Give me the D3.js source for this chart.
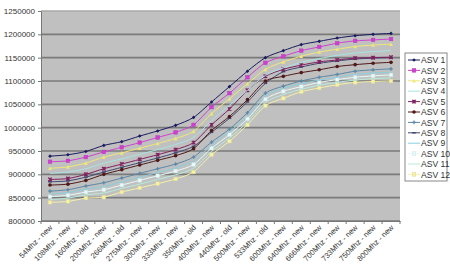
<!DOCTYPE html>
<html>
<head>
<meta charset="utf-8">
<script src="https://cdn.jsdelivr.net/npm/d3@7"></script>
<style>
  body { margin: 0; background: #fff; }
  svg text { font-family: "Liberation Sans", Arial, sans-serif; fill: #222; }
</style>
</head>
<body>
<div id="chart"></div>
<script>
const categories = ["54Mhz - new", "108Mhz - new", "160Mhz - old", "200Mhz - new", "266Mhz - old",
  "275Mhz - new", "300Mhz - new", "333Mhz - new", "350Mhz - old", "400Mhz - new", "440Mhz - old",
  "500Mhz - new", "533Mhz - old", "600Mhz - new", "640Mhz - new", "666Mhz - new", "700Mhz - new",
  "733Mhz - new", "750Mhz - new", "800Mhz - new"];

const seriesNames = ["ASV 1", "ASV 2", "ASV 3", "ASV 4", "ASV 5", "ASV 6",
  "ASV 7", "ASV 8", "ASV 9", "ASV 10", "ASV 11", "ASV 12"];

// values in thousands
const asv1 = [939, 942, 949, 962, 970, 982, 993, 1005, 1022, 1055, 1088, 1121, 1150, 1165, 1178, 1185, 1192, 1197, 1200, 1202];
const asv2 = [927, 929, 937, 948, 958, 968, 979, 990, 1006, 1044, 1074, 1108, 1139, 1153, 1165, 1173, 1181, 1186, 1188, 1190];
const asv3 = [913, 916, 924, 937, 946, 956, 966, 977, 992, 1030, 1062, 1094, 1125, 1141, 1153, 1162, 1168, 1174, 1177, 1179];
const asv4 = [902, 905, 912, 924, 933, 943, 953, 964, 979, 1015, 1048, 1080, 1112, 1128, 1140, 1148, 1155, 1160, 1163, 1165];
const asv5 = [889, 891, 900, 912, 922, 932, 942, 953, 968, 1006, 1040, 1080, 1110, 1125, 1134, 1141, 1145, 1149, 1150, 1151];
const asv6 = [877, 879, 887, 900, 910, 920, 930, 940, 955, 994, 1024, 1060, 1100, 1110, 1118, 1124, 1131, 1135, 1138, 1140];
const asv7 = [864, 867, 875, 882, 892, 902, 912, 922, 937, 969, 997, 1032, 1074, 1089, 1100, 1108, 1114, 1121, 1124, 1126];
const asv8 = [884, 886, 894, 905, 915, 925, 935, 946, 960, 990, 1020, 1055, 1095, 1120, 1130, 1138, 1143, 1147, 1149, 1150];
const asv9 = [858, 861, 868, 874, 884, 894, 904, 914, 929, 962, 991, 1025, 1068, 1084, 1094, 1102, 1108, 1114, 1117, 1119];
const asv10 = [852, 855, 862, 867, 877, 887, 897, 907, 921, 956, 985, 1019, 1061, 1078, 1088, 1097, 1103, 1108, 1111, 1113];
const asv11 = [846, 849, 856, 860, 870, 879, 889, 899, 913, 949, 978, 1012, 1054, 1071, 1082, 1091, 1097, 1102, 1105, 1107];
const asv12 = [840, 842, 849, 851, 862, 871, 880, 890, 905, 942, 971, 1006, 1047, 1063, 1077, 1085, 1092, 1097, 1099, 1100];

const yTicks = [800000, 850000, 900000, 950000, 1000000, 1050000, 1100000, 1150000, 1200000, 1250000];

const allValues = [asv1, asv2, asv3, asv4, asv5, asv6, asv7, asv8, asv9, asv10, asv11, asv12];
const colors = ["#1a1a60", "#d040d0", "#efe878", "#a8e4e4", "#802060", "#501818",
  "#5a88a8", "#404870", "#88d0e0", "#e6fafa", "#b8ecd8", "#f6f2a8"];
const markers = ["diamond", "square", "triangle", "none", "cross", "circle",
  "plus", "dash", "none", "square", "none", "square"];

const data = seriesNames.map((name, i) => ({
  name,
  values: allValues[i].map((v, j) => ({ cat: categories[j], value: v * 1000 }))
}));

const width = 450, height = 275;
const margin = { top: 11, right: 50, bottom: 54, left: 41 };

const svg = d3.select("#chart").append("svg")
  .attr("width", width)
  .attr("height", height);

const xScale = d3.scaleBand()
  .domain(categories)
  .range([margin.left, width - margin.right]);

const yScale = d3.scaleLinear()
  .domain([800000, 1250000])
  .range([height - margin.bottom, margin.top]);

// plot area
svg.append("rect")
  .attr("class", "plot-bg")
  .attr("x", margin.left)
  .attr("y", margin.top)
  .attr("width", width - margin.left - margin.right)
  .attr("height", height - margin.top - margin.bottom)
  .style("fill", "#c0c0c0")
  .style("stroke", "none");

// gridlines
svg.append("g")
  .selectAll("line")
  .data(yTicks)
  .join("line")
  .attr("x1", margin.left)
  .attr("x2", width - margin.right)
  .attr("y1", d => yScale(d))
  .attr("y2", d => yScale(d))
  .style("stroke", d => d === 1250000 ? "#a8a8a8" : "#7a7a7a")
  .style("stroke-width", 1.6);

const yAxis = d3.axisLeft(yScale).tickValues(yTicks).tickSize(3).tickPadding(3).tickFormat(d3.format("d"));
const gy = svg.append("g")
  .attr("transform", `translate(${margin.left},0)`)
  .call(yAxis);
gy.select(".domain").attr("stroke", "#777");
gy.selectAll(".tick line").attr("stroke", "#777");
gy.selectAll("text").attr("font-size", 8).style("fill", "#333");

const xAxis = d3.axisBottom(xScale).tickSize(0).tickFormat("");
const gx = svg.append("g")
  .attr("transform", `translate(0,${height - margin.bottom})`)
  .call(xAxis);
gx.select(".domain").attr("stroke", "#777");

// tick marks between categories
svg.append("g")
  .selectAll("line")
  .data(categories.concat([null]))
  .join("line")
  .attr("x1", (d, i) => margin.left + i * xScale.step())
  .attr("x2", (d, i) => margin.left + i * xScale.step())
  .attr("y1", height - margin.bottom)
  .attr("y2", height - margin.bottom + 3)
  .attr("stroke", "#777");

// rotated category labels
svg.append("g")
  .selectAll("text")
  .data(categories)
  .join("text")
  .attr("transform", d => `translate(${xScale(d) + xScale.bandwidth() / 2 + 3},${height - margin.bottom + 7}) rotate(-45)`)
  .attr("text-anchor", "end")
  .attr("font-size", 7.6)
  .style("fill", "#333")
  .text(d => d);

const line = d3.line()
  .x(d => xScale(d.cat) + xScale.bandwidth() / 2)
  .y(d => yScale(d.value))
  .curve(d3.curveCardinal.tension(0.2));

function drawMarker(g, type, color, size) {
  const s = size;
  if (type === "diamond") {
    g.append("path").attr("d", `M0,${-s}L${s},0L0,${s}L${-s},0Z`).attr("fill", color);
  } else if (type === "square") {
    g.append("rect").attr("x", -s).attr("y", -s).attr("width", 2 * s).attr("height", 2 * s)
      .attr("fill", color).attr("stroke", d3.color(color).darker(0.3)).attr("stroke-width", 0.5);
  } else if (type === "triangle") {
    g.append("path").attr("d", `M0,${-s}L${s},${s}L${-s},${s}Z`).attr("fill", color);
  } else if (type === "circle") {
    g.append("circle").attr("r", s).attr("fill", color);
  } else if (type === "cross") {
    g.append("path").attr("d", `M${-s},${-s}L${s},${s}M${s},${-s}L${-s},${s}M0,${-s}L0,${s}`)
      .attr("stroke", color).attr("stroke-width", 1.2);
  } else if (type === "plus") {
    g.append("path").attr("d", `M${-s},0L${s},0M0,${-s}L0,${s}`)
      .attr("stroke", color).attr("stroke-width", 1.2);
  } else if (type === "dash") {
    g.append("path").attr("d", `M${-s},0L${s},0`).attr("stroke", color).attr("stroke-width", 1.5);
  }
}

// draw series bottom-up so top series end up on top
const series = svg.append("g");
data.slice().reverse().forEach(s => {
  const i = seriesNames.indexOf(s.name);
  series.append("path")
    .datum(s.values)
    .attr("fill", "none")
    .attr("stroke", colors[i])
    .attr("stroke-width", 1)
    .attr("d", line);
  s.values.forEach(d => {
    const g = series.append("g")
      .attr("transform", `translate(${xScale(d.cat) + xScale.bandwidth() / 2},${yScale(d.value)})`);
    drawMarker(g, markers[i], colors[i], 1.8);
  });
});

// legend
const legend = svg.append("g").attr("transform", "translate(405,53)");
legend.append("rect")
  .attr("width", 42)
  .attr("height", 128)
  .style("fill", "#fff")
  .style("stroke", "#888")
  .style("stroke-width", 1);

seriesNames.forEach((name, i) => {
  const y = 7 + i * 10.4;
  legend.append("line")
    .attr("x1", 3).attr("x2", 15)
    .attr("y1", y).attr("y2", y)
    .attr("stroke", colors[i]).attr("stroke-width", 1);
  const g = legend.append("g").attr("transform", `translate(9,${y})`);
  drawMarker(g, markers[i], colors[i], 1.8);
  legend.append("text")
    .attr("x", 16)
    .attr("y", y + 3.2)
    .attr("font-size", 8.6)
    .style("fill", "#333")
    .text(name);
});
</script>
</body>
</html>
